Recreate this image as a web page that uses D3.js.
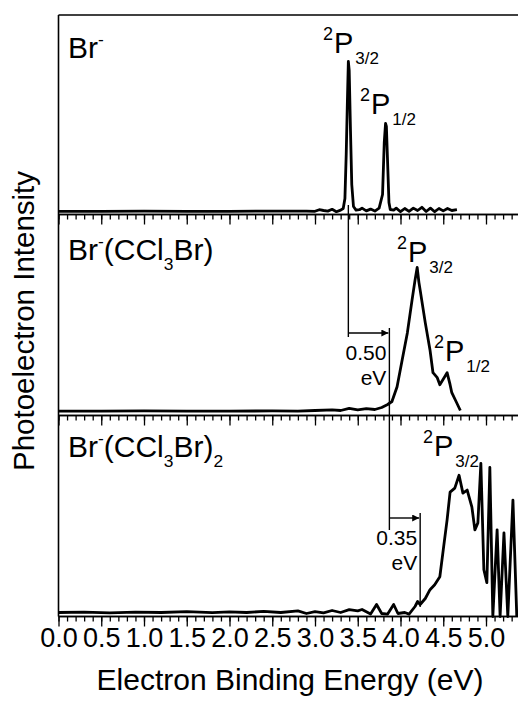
<!DOCTYPE html>
<html lang="en">
<head>
<meta charset="UTF-8">
<title>Br- (CCl3Br)n photoelectron spectra</title>
<script src="https://d3js.org/d3.v7.min.js"></script>
<style>
  body { margin: 0; padding: 0; background: white; }
  svg { display: block; font-family: "Liberation Sans", Arial, Helvetica, sans-serif; }
  .trace { fill: none; stroke: black; stroke-width: 2.8; stroke-linejoin: round; }
  .frame { stroke: black; stroke-width: 1.6; fill: none; }
  .note { stroke: black; stroke-width: 1.4; fill: none; }
</style>
</head>
<body>
<div id="chart"></div>
<script>
// spectra: [binding energy (eV), relative intensity]
const brBare = [
  [0.00, 0.016], [0.5, 0.016], [1.0, 0.017], [1.5, 0.016], [2.0, 0.016], [2.5, 0.017],
  [2.9, 0.017], [3.0, 0.016], [3.05, 0.024], [3.1, 0.02], [3.15, 0.017], [3.2, 0.026],
  [3.25, 0.014], [3.3, 0.022], [3.33, 0.03], [3.35, 0.08], [3.365, 0.30], [3.378, 0.55],
  [3.39, 0.765], [3.40, 0.72], [3.415, 0.42], [3.43, 0.15], [3.45, 0.04], [3.48, 0.022],
  [3.52, 0.024], [3.55, 0.032], [3.6, 0.018], [3.65, 0.027], [3.70, 0.017], [3.75, 0.032],
  [3.79, 0.10], [3.81, 0.36], [3.825, 0.455], [3.835, 0.44], [3.85, 0.25], [3.865, 0.06],
  [3.88, 0.025], [3.92, 0.022], [3.95, 0.032], [4.0, 0.014], [4.05, 0.03], [4.1, 0.016],
  [4.15, 0.032], [4.2, 0.02], [4.25, 0.036], [4.3, 0.015], [4.35, 0.032], [4.4, 0.014],
  [4.45, 0.03], [4.5, 0.018], [4.55, 0.03], [4.6, 0.02], [4.66, 0.024]
];

const brMono = [
  [0.0, 0.022], [0.5, 0.022], [1.0, 0.023], [1.5, 0.022], [2.0, 0.022], [2.5, 0.023],
  [2.8, 0.022], [3.0, 0.025], [3.2, 0.028], [3.3, 0.025], [3.4, 0.036], [3.5, 0.028],
  [3.6, 0.034], [3.7, 0.03], [3.78, 0.04], [3.85, 0.055], [3.9, 0.07], [3.96, 0.144],
  [4.02, 0.279], [4.08, 0.413], [4.135, 0.577], [4.17, 0.677], [4.195, 0.74], [4.215, 0.667],
  [4.23, 0.627], [4.29, 0.463], [4.345, 0.328], [4.38, 0.214], [4.43, 0.189], [4.46, 0.154],
  [4.51, 0.189], [4.545, 0.214], [4.58, 0.154], [4.60, 0.114], [4.65, 0.07], [4.70, 0.025]
];

const brDi = [
  [0.0, 0.02], [0.3, 0.022], [0.6, 0.018], [0.9, 0.022], [1.2, 0.02], [1.5, 0.024],
  [1.8, 0.019], [2.0, 0.023], [2.2, 0.02], [2.4, 0.026], [2.6, 0.02], [2.8, 0.028],
  [2.9, 0.015], [3.0, 0.024], [3.1, 0.018], [3.2, 0.03], [3.3, 0.02], [3.4, 0.034],
  [3.5, 0.028], [3.55, 0.035], [3.65, 0.012], [3.72, 0.06], [3.78, 0.015], [3.85, 0.012],
  [3.92, 0.06], [3.97, 0.015], [4.05, 0.02], [4.1, 0.012], [4.17, 0.05], [4.2, 0.075],
  [4.23, 0.06], [4.29, 0.09], [4.345, 0.134], [4.40, 0.159], [4.46, 0.199], [4.50, 0.333],
  [4.545, 0.483], [4.58, 0.622], [4.635, 0.642], [4.685, 0.706], [4.73, 0.617], [4.78, 0.632],
  [4.835, 0.547], [4.87, 0.433], [4.905, 0.468], [4.94, 0.766], [4.975, 0.234], [5.01, 0.169],
  [5.045, 0.746], [5.08, 0.0], [5.13, 0.433], [5.165, 0.0], [5.21, 0.418], [5.255, 0.0],
  [5.315, 0.582], [5.36, 0.0]
];

const majorTicks = d3.range(0, 5.01, 0.5);
const minorTicks = d3.range(0, 5.45, 0.1);
// annotation: vertical drop lines (eV) and the shifts between them
const vdeLines = [3.39, 3.87, 4.23];
const shiftLabels = ["0.50", "0.35"];

const W = 518, H = 704;
const left = 58.5;
const panelTop = [15, 214.5, 415.5];
const panelBottom = [214.5, 415.5, 616.5];

const svg = d3.select("#chart").append("svg").attr("width", W).attr("height", H);

svg.append("clipPath").attr("id", "plotclip")
  .append("rect").attr("x", left).attr("y", 0).attr("width", W - left).attr("height", H);

const x = d3.scaleLinear().domain([0, 5.45]).range([left, left + 5.45 * 85.5]);
const yScales = panelBottom.map(b => d3.scaleLinear().domain([0, 1]).range([b, b - 200]));

// frame: left and top borders
svg.append("line").attr("class", "frame")
  .attr("x1", left).attr("x2", left).attr("y1", panelTop[0]).attr("y2", panelBottom[2]);
svg.append("line").attr("class", "frame")
  .attr("x1", left).attr("x2", W).attr("y1", panelTop[0]).attr("y2", panelTop[0]);

// x axes under every panel, ticks outward
panelBottom.forEach((b, i) => {
  const gMinor = svg.append("g").attr("transform", `translate(0,${b})`)
    .call(d3.axisBottom(x).tickValues(minorTicks).tickSize(5).tickSizeOuter(0).tickFormat(""));
  const gMajor = svg.append("g").attr("transform", `translate(0,${b})`)
    .call(d3.axisBottom(x).tickValues(majorTicks).tickSize(10).tickSizeOuter(0)
      .tickFormat(i === 2 ? d3.format(".1f") : ""));
  [gMinor, gMajor].forEach(g => {
    g.select(".domain").attr("stroke-width", 1.6).attr("d", `M${left},0H${W}`);
    g.selectAll(".tick line").attr("stroke-width", 1.3);
  });
  if (i === 2) {
    gMajor.selectAll(".tick text")
      .attr("font-size", 27).attr("font-family", "Liberation Sans, Arial, sans-serif")
      .attr("fill", "black").attr("dy", "0.73em").attr("y", 11);
  }
});

// traces
const line = i => d3.line().x(d => x(d[0])).y(d => yScales[i](d[1]));
[brBare, brMono, brDi].forEach((data, i) => {
  svg.append("path").datum(data).attr("class", "trace")
    .attr("clip-path", "url(#plotclip)").attr("d", line(i));
});

// axis titles
svg.append("text").attr("x", 290).attr("y", 690).attr("text-anchor", "middle")
  .attr("font-size", 30).text("Electron Binding Energy (eV)");
svg.append("text").attr("transform", `translate(34,${(170 + 472) / 2}) rotate(-90)`)
  .attr("text-anchor", "middle").attr("font-size", 29.5).text("Photoelectron Intensity");

// helper for rich labels: parts of [text, kind]
function richText(xp, yp, parts, size) {
  const t = svg.append("text").attr("x", xp).attr("y", yp).attr("font-size", size);
  let shift = 0;
  parts.forEach(([s, kind]) => {
    const target = kind === "sup" ? -0.42 * size : kind === "sub" ? 0.34 * size : 0;
    t.append("tspan").attr("dy", target - shift)
      .attr("font-size", kind === "n" ? size : size * 0.58).text(s);
    shift = target;
  });
  return t;
}

// panel labels
richText(68, 58, [["Br", "n"], ["-", "sup"]], 30);
richText(68, 260, [["Br", "n"], ["-", "sup"], ["(CCl", "n"], ["3", "sub"], ["Br)", "n"]], 30);
richText(68, 457, [["Br", "n"], ["-", "sup"], ["(CCl", "n"], ["3", "sub"], ["Br)", "n"], ["2", "sub"]], 30);

// term symbols
function term(xp, yp, j) {
  const t = svg.append("text").attr("x", xp).attr("y", yp).attr("font-size", 29);
  t.append("tspan").attr("font-size", 18).attr("dy", -13).text("2");
  t.append("tspan").attr("dy", 13).attr("dx", 1).text("P");
  t.append("tspan").attr("font-size", 17).attr("dy", 11).attr("dx", 2).text(j);
}
term(323, 53, "3/2");
term(360, 114, "1/2");
term(397, 262, "3/2");
term(434, 361, "1/2");
term(423, 456, "3/2");

// shift annotations
const arrowY = [333, 518];
const dropTop = [205, 328, 513];
const dropBottom = [337, 530, 607];
vdeLines.forEach((e, i) => {
  svg.append("line").attr("class", "note")
    .attr("x1", x(e)).attr("x2", x(e)).attr("y1", dropTop[i]).attr("y2", dropBottom[i]);
});
svg.append("defs").append("marker").attr("id", "arrow")
  .attr("viewBox", "0 0 10 10").attr("refX", 10).attr("refY", 5)
  .attr("markerWidth", 9).attr("markerHeight", 7).attr("markerUnits", "userSpaceOnUse")
  .attr("orient", "auto")
  .append("path").attr("d", "M0,0L10,5L0,10Z").attr("fill", "black");
shiftLabels.forEach((lab, i) => {
  const x0 = x(vdeLines[i]), x1 = x(vdeLines[i + 1]);
  svg.append("line").attr("class", "note").attr("stroke-width", 1.2)
    .attr("x1", x0).attr("x2", x1 - 1).attr("y1", arrowY[i]).attr("y2", arrowY[i])
    .attr("marker-end", "url(#arrow)");
  svg.append("text").attr("x", x1 - 3).attr("y", arrowY[i] + 27)
    .attr("text-anchor", "end").attr("font-size", 21).text(lab);
  svg.append("text").attr("x", x1 - 3).attr("y", arrowY[i] + 52)
    .attr("text-anchor", "end").attr("font-size", 21).text("eV");
});
</script>
</body>
</html>
